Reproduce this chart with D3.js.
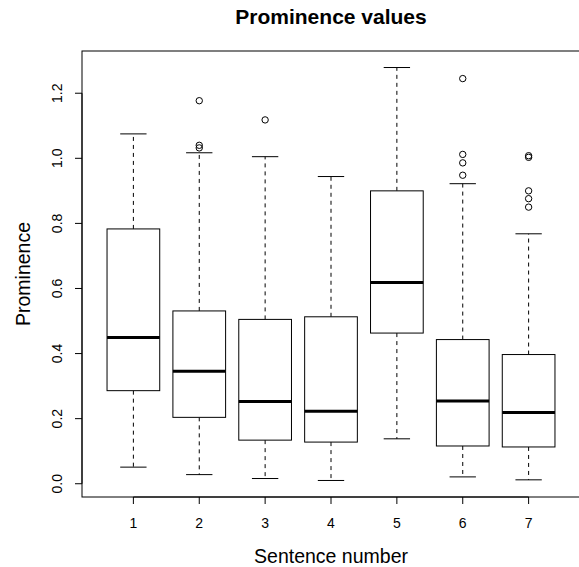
<!DOCTYPE html>
<html>
<head>
<meta charset="utf-8">
<script src="https://cdn.jsdelivr.net/npm/d3@7"></script>
<style>
  body { margin: 0; background: #fff; }
  svg { display: block; font-family: "Liberation Sans", Arial, sans-serif; }
</style>
</head>
<body>
<svg id="chart" width="579" height="567"></svg>
<script>
// boxplot stats per sentence
const sentences = [1, 2, 3, 4, 5, 6, 7];
const whiskerLow = [0.051, 0.028, 0.016, 0.010, 0.138, 0.021, 0.012];
const q1 = [0.286, 0.204, 0.134, 0.128, 0.463, 0.116, 0.113];
const median = [0.449, 0.346, 0.253, 0.223, 0.618, 0.254, 0.219];
const q3 = [0.783, 0.531, 0.505, 0.513, 0.900, 0.443, 0.397];
const whiskerHigh = [1.075, 1.017, 1.005, 0.944, 1.279, 0.922, 0.768];
const outliers = [
  [],
  [1.177, 1.040, 1.032],
  [1.118],
  [],
  [],
  [1.245, 1.012, 0.986, 0.948],
  [1.008, 1.003, 0.900, 0.876, 0.850]
];
const yTicks = [0, 0.2, 0.4, 0.6, 0.8, 1.0, 1.2];

const svg = d3.select('#chart');
const plotL = 82, plotR = 580, plotT = 51, plotB = 497;

// R style 4% padding on both axes
let allVals = whiskerLow.concat(whiskerHigh, outliers.flat());
let lo = d3.min(allVals), hi = d3.max(allVals);
let pad = (hi - lo) * 0.04;
const y = d3.scaleLinear().domain([lo - pad, hi + pad]).range([plotB, plotT]);
const x = d3.scaleLinear().domain([0.5 - 0.28, 7.5 + 0.28]).range([plotL, plotR]);

const boxW = x(0.8) - x(0);
const capW = x(0.4) - x(0);

const data = sentences.map((s, i) => ({
  s: s, lo: whiskerLow[i], q1: q1[i], med: median[i], q3: q3[i], hi: whiskerHigh[i], out: outliers[i]
}));

const g = svg.append('g').attr('stroke', '#000').attr('fill', 'none');

const box = g.selectAll('g.box').data(data).enter().append('g').attr('class', 'box');

// whiskers
box.append('line')
  .attr('x1', d => x(d.s)).attr('x2', d => x(d.s))
  .attr('y1', d => y(d.q3)).attr('y2', d => y(d.hi))
  .attr('stroke-dasharray', '4,4');
box.append('line')
  .attr('x1', d => x(d.s)).attr('x2', d => x(d.s))
  .attr('y1', d => y(d.q1)).attr('y2', d => y(d.lo))
  .attr('stroke-dasharray', '4,4');
// caps
box.append('line')
  .attr('x1', d => x(d.s) - capW / 2).attr('x2', d => x(d.s) + capW / 2)
  .attr('y1', d => y(d.hi)).attr('y2', d => y(d.hi));
box.append('line')
  .attr('x1', d => x(d.s) - capW / 2).attr('x2', d => x(d.s) + capW / 2)
  .attr('y1', d => y(d.lo)).attr('y2', d => y(d.lo));
// box
box.append('rect')
  .attr('x', d => x(d.s) - boxW / 2)
  .attr('width', boxW)
  .attr('y', d => y(d.q3))
  .attr('height', d => y(d.q1) - y(d.q3))
  .attr('fill', '#fff');
// median
box.append('line')
  .attr('x1', d => x(d.s) - boxW / 2).attr('x2', d => x(d.s) + boxW / 2)
  .attr('y1', d => y(d.med)).attr('y2', d => y(d.med))
  .attr('stroke-width', 3);
// outliers
box.selectAll('circle')
  .data(d => d.out.map(v => ({ s: d.s, v: v })))
  .enter().append('circle')
  .attr('cx', d => x(d.s)).attr('cy', d => y(d.v)).attr('r', 3.2);

// frame
svg.append('rect')
  .attr('x', plotL).attr('y', plotT)
  .attr('width', plotR - plotL).attr('height', plotB - plotT)
  .attr('fill', 'none').attr('stroke', '#000');

// y axis
const ya = svg.append('g');
ya.append('line')
  .attr('x1', plotL).attr('x2', plotL)
  .attr('y1', y(yTicks[0])).attr('y2', y(yTicks[yTicks.length - 1]))
  .attr('stroke', '#000');
ya.selectAll('line.tick').data(yTicks).enter().append('line')
  .attr('class', 'tick')
  .attr('x1', plotL - 7).attr('x2', plotL)
  .attr('y1', d => y(d)).attr('y2', d => y(d))
  .attr('stroke', '#000');
ya.selectAll('text').data(yTicks).enter().append('text')
  .attr('transform', d => `translate(62,${y(d)}) rotate(-90)`)
  .attr('text-anchor', 'middle')
  .attr('font-size', 14)
  .text(d => d3.format('.1f')(d));

// x axis
const xa = svg.append('g');
xa.append('line')
  .attr('x1', x(1)).attr('x2', x(7))
  .attr('y1', plotB).attr('y2', plotB)
  .attr('stroke', '#000');
xa.selectAll('line.tick').data(sentences).enter().append('line')
  .attr('class', 'tick')
  .attr('x1', d => x(d)).attr('x2', d => x(d))
  .attr('y1', plotB).attr('y2', plotB + 7)
  .attr('stroke', '#000');
xa.selectAll('text').data(sentences).enter().append('text')
  .attr('x', d => x(d)).attr('y', 528)
  .attr('text-anchor', 'middle')
  .attr('font-size', 14)
  .text(d => d);

// titles
svg.append('text')
  .attr('x', (plotL + plotR) / 2).attr('y', 24)
  .attr('text-anchor', 'middle')
  .attr('font-size', 21).attr('font-weight', 'bold')
  .text('Prominence values');
svg.append('text')
  .attr('x', (plotL + plotR) / 2).attr('y', 563)
  .attr('text-anchor', 'middle')
  .attr('font-size', 19.5)
  .text('Sentence number');
svg.append('text')
  .attr('transform', `translate(30,${(plotT + plotB) / 2}) rotate(-90)`)
  .attr('text-anchor', 'middle')
  .attr('font-size', 19.5)
  .text('Prominence');
</script>
</body>
</html>
